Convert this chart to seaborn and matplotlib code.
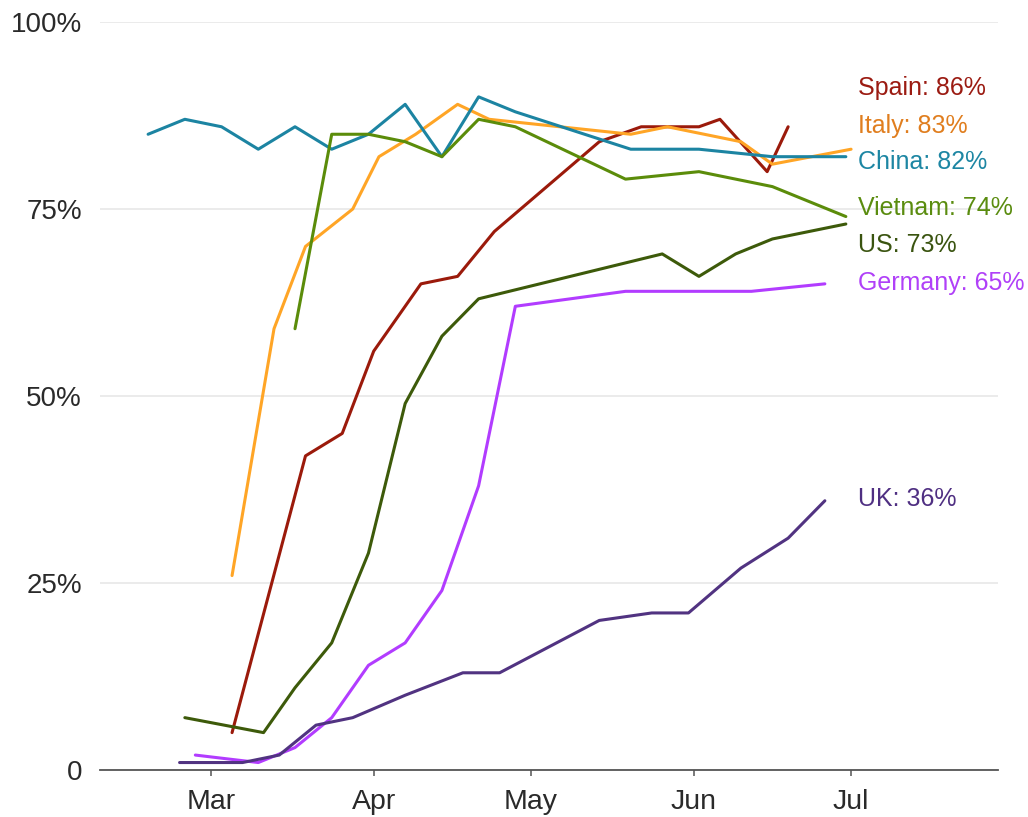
import pandas as pd
import matplotlib
matplotlib.use("Agg")
import matplotlib.pyplot as plt
import matplotlib.dates as mdates
import seaborn as sns

# valeurs (% de personnes portant un masque)
spain_dates = ["2020-03-05", "2020-03-19", "2020-03-26", "2020-04-01", "2020-04-10", "2020-04-17",
               "2020-04-24", "2020-05-14", "2020-05-22", "2020-06-02", "2020-06-06", "2020-06-15",
               "2020-06-19"]
spain_vals = [5, 42, 45, 56, 65, 66, 72, 84, 86, 86, 87, 80, 86]

italy_dates = ["2020-03-05", "2020-03-13", "2020-03-19", "2020-03-28", "2020-04-02", "2020-04-09",
               "2020-04-17", "2020-04-23", "2020-05-20", "2020-05-27", "2020-06-10", "2020-06-16",
               "2020-07-01"]
italy_vals = [26, 59, 70, 75, 82, 85, 89, 87, 85, 86, 84, 81, 83]

china_dates = ["2020-02-18", "2020-02-25", "2020-03-03", "2020-03-10", "2020-03-17", "2020-03-24",
               "2020-03-31", "2020-04-07", "2020-04-14", "2020-04-21", "2020-04-28", "2020-05-20",
               "2020-06-02", "2020-06-16", "2020-06-30"]
china_vals = [85, 87, 86, 83, 86, 83, 85, 89, 82, 90, 88, 83, 83, 82, 82]

vietnam_dates = ["2020-03-17", "2020-03-24", "2020-03-31", "2020-04-07", "2020-04-14", "2020-04-21",
                 "2020-04-28", "2020-05-19", "2020-06-02", "2020-06-16", "2020-06-30"]
vietnam_vals = [59, 85, 85, 84, 82, 87, 86, 79, 80, 78, 74]

us_dates = ["2020-02-25", "2020-03-11", "2020-03-17", "2020-03-24", "2020-03-31", "2020-04-07",
            "2020-04-14", "2020-04-21", "2020-05-26", "2020-06-02", "2020-06-09", "2020-06-16",
            "2020-06-30"]
us_vals = [7, 5, 11, 17, 29, 49, 58, 63, 69, 66, 69, 71, 73]

germany_dates = ["2020-02-27", "2020-03-10", "2020-03-17", "2020-03-24", "2020-03-31", "2020-04-07",
                 "2020-04-14", "2020-04-21", "2020-04-28", "2020-05-19", "2020-06-12", "2020-06-26"]
germany_vals = [2, 1, 3, 7, 14, 17, 24, 38, 62, 64, 64, 65]

uk_dates = ["2020-02-24", "2020-03-07", "2020-03-14", "2020-03-21", "2020-03-28", "2020-04-07",
            "2020-04-18", "2020-04-25", "2020-05-14", "2020-05-24", "2020-05-31", "2020-06-10",
            "2020-06-19", "2020-06-26"]
uk_vals = [1, 1, 2, 6, 7, 10, 13, 13, 20, 21, 21, 27, 31, 36]

countries = ["Spain", "Italy", "China", "Vietnam", "US", "Germany", "UK"]
line_colors = {"Spain": "#9b1a0b", "Italy": "#ffa526", "China": "#1c84a2", "Vietnam": "#5b8c0a",
               "US": "#3d5a0a", "Germany": "#b23cff", "UK": "#513381"}
label_colors = {"Spain": "#9b1b12", "Italy": "#e07e1f", "China": "#1d86a3", "Vietnam": "#5a8c0f",
                "US": "#3a5410", "Germany": "#b040f8", "UK": "#4f2f82"}
# position verticale des étiquettes (décalées pour éviter les chevauchements)
label_y = {"Spain": 91.2, "Italy": 86.1, "China": 81.3, "Vietnam": 75.1, "US": 70.2,
           "Germany": 65.1, "UK": 36.2}

series = {"Spain": (spain_dates, spain_vals), "Italy": (italy_dates, italy_vals),
          "China": (china_dates, china_vals), "Vietnam": (vietnam_dates, vietnam_vals),
          "US": (us_dates, us_vals), "Germany": (germany_dates, germany_vals),
          "UK": (uk_dates, uk_vals)}

frames = []
for c in countries:
    d, v = series[c]
    frames.append(pd.DataFrame({"date": pd.to_datetime(d), "value": v, "country": c}))
df = pd.concat(frames, ignore_index=True)

sns.set_style("white")
plt.rcParams["font.family"] = ["Liberation Sans", "DejaVu Sans"]

fig = plt.figure(figsize=(10.28, 8.17), dpi=100)
ax = fig.add_axes([0.0973, 0.0575, 0.8735, 0.9155])

sns.lineplot(data=df, x="date", y="value", hue="country", hue_order=countries,
             palette=line_colors, linewidth=2.2, legend=False, ax=ax, estimator=None,
             sort=False)

for c in countries:
    last = series[c][1][-1]
    ax.text(pd.Timestamp("2020-07-02 08:00"), label_y[c], f"{c}: {last}%",
            color=label_colors[c], fontsize=18, ha="left", va="center")

ax.set_xlim(pd.Timestamp("2020-02-08 20:00"), pd.Timestamp("2020-07-29"))
ax.set_ylim(0, 100)

ax.xaxis.set_major_locator(mdates.MonthLocator(bymonth=[3, 4, 5, 6, 7]))
ax.xaxis.set_major_formatter(mdates.DateFormatter("%b"))
ax.set_yticks([0, 25, 50, 75, 100])
ax.set_yticklabels(["0", "25%", "50%", "75%", "100%"])

ax.set_xlabel("")
ax.set_ylabel("")
for s in ["top", "right", "left"]:
    ax.spines[s].set_visible(False)
ax.spines["bottom"].set_color("#555555")
ax.spines["bottom"].set_linewidth(1.3)

ax.yaxis.grid(True, color="#e6e6e6", linewidth=1.1)
ax.set_axisbelow(True)
ax.tick_params(axis="x", length=4, width=1.1, color="#555555", pad=10,
               labelsize=20.5, labelcolor="#2a2a2a", bottom=True)
ax.tick_params(axis="y", length=0, pad=13, labelsize=20, labelcolor="#2a2a2a")

plt.savefig("out.png", dpi=100)
